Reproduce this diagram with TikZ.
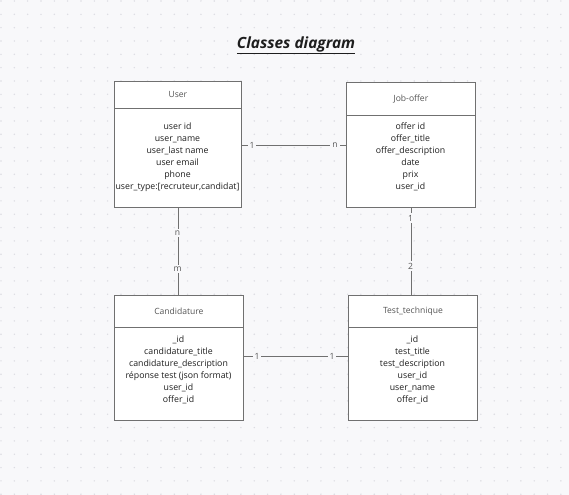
\documentclass[tikz,border=0pt]{standalone}
\usepackage{fontspec}
\setmainfont{Open Sans}
\definecolor{bg}{HTML}{F8F8FA}
\definecolor{dotc}{HTML}{DCDCE2}
\definecolor{edge}{HTML}{707070}
\definecolor{hdrtxt}{HTML}{555555}
\definecolor{bodytxt}{HTML}{1E1E1E}
\tikzset{
  hdr/.style={draw=edge, fill=white, line width=0.8bp, anchor=north west, inner sep=0pt, text=hdrtxt, font=\fontsize{8.6}{10}\selectfont},
  bdy/.style={draw=edge, fill=white, line width=0.8bp, anchor=north west, inner sep=0pt},
  fld/.style={align=center, anchor=north, inner sep=0pt, text=bodytxt, font=\fontsize{8.8}{12}\selectfont},
  conn/.style={draw=edge, line width=0.8bp},
  mult/.style={fill=bg, inner sep=2bp, text=hdrtxt, font=\fontsize{8.6}{10}\selectfont}
}
\begin{document}
\begin{tikzpicture}[x=1bp, y=-1bp]
\fill[bg] (0,0) rectangle (569,495);
\useasboundingbox (0,0) rectangle (569,495);
\foreach \i in {0,...,42} {
  \foreach \j in {0,...,37} {
    \fill[dotc] ({1+13.33*\i},{1+13.33*\j}) circle (0.8bp);
  }
}
% title
\node[font=\fontsize{15.5}{18}\selectfont\bfseries\itshape, text=bodytxt, inner sep=0pt] (title) at (296,45) {\underline{Classes diagram}};

% User
\node[hdr, minimum width=127bp, minimum height=27bp] (userh) at (114,81) {User};
\node[bdy, minimum width=127bp, minimum height=99bp] (userb) at (114,108) {};
\node[fld] (userf) at (177.5,123) {user id\\user\_name\\user\_last name\\user email\\phone\\user\_type:[recruteur,candidat]};

% Job-offer
\node[hdr, minimum width=129bp, minimum height=33bp] (jobh) at (346,82) {Job-offer};
\node[bdy, minimum width=129bp, minimum height=92bp] (jobb) at (346,115) {};
\node[fld] (jobf) at (410.5,123) {offer id\\offer\_title\\offer\_description\\date\\prix\\user\_id};

% Candidature
\node[hdr, minimum width=129bp, minimum height=32bp] (candh) at (114,295) {Candidature};
\node[bdy, minimum width=129bp, minimum height=93bp] (candb) at (114,327) {};
\node[fld] (candf) at (178.5,336) {\_id\\candidature\_title\\candidature\_description\\réponse test (json format)\\user\_id\\offer\_id};

% Test_technique
\node[hdr, minimum width=129bp, minimum height=32bp] (testh) at (348,295) {Test\_technique};
\node[bdy, minimum width=129bp, minimum height=93bp] (testb) at (348,327) {};
\node[fld] (testf) at (412.5,336) {\_id\\test\_title\\test\_description\\user\_id\\user\_name\\offer\_id};

% connectors
\draw[conn] ([yshift=12.5bp]userb.east) -- ([yshift=12.5bp]userb.east -| jobb.west);
\node[mult] (m1) at (252,145) {1};
\node[mult] (m2) at (335,145) {n};

\draw[conn] ([yshift=17.5bp]candb.east) -- ([yshift=17.5bp]candb.east -| testb.west);
\node[mult] (m3) at (257,356) {1};
\node[mult] (m4) at (332,356) {1};

\draw[conn] (userb.south) -- (userb.south |- candh.north);
\node[mult] (m5) at (177.5,233) {n};
\node[mult] (m6) at (177.5,269) {m};

\draw[conn] (jobb.south) -- (jobb.south |- testh.north);
\node[mult] (m7) at (410.5,218) {1};
\node[mult] (m8) at (410.5,266) {2};
\end{tikzpicture}
\end{document}
